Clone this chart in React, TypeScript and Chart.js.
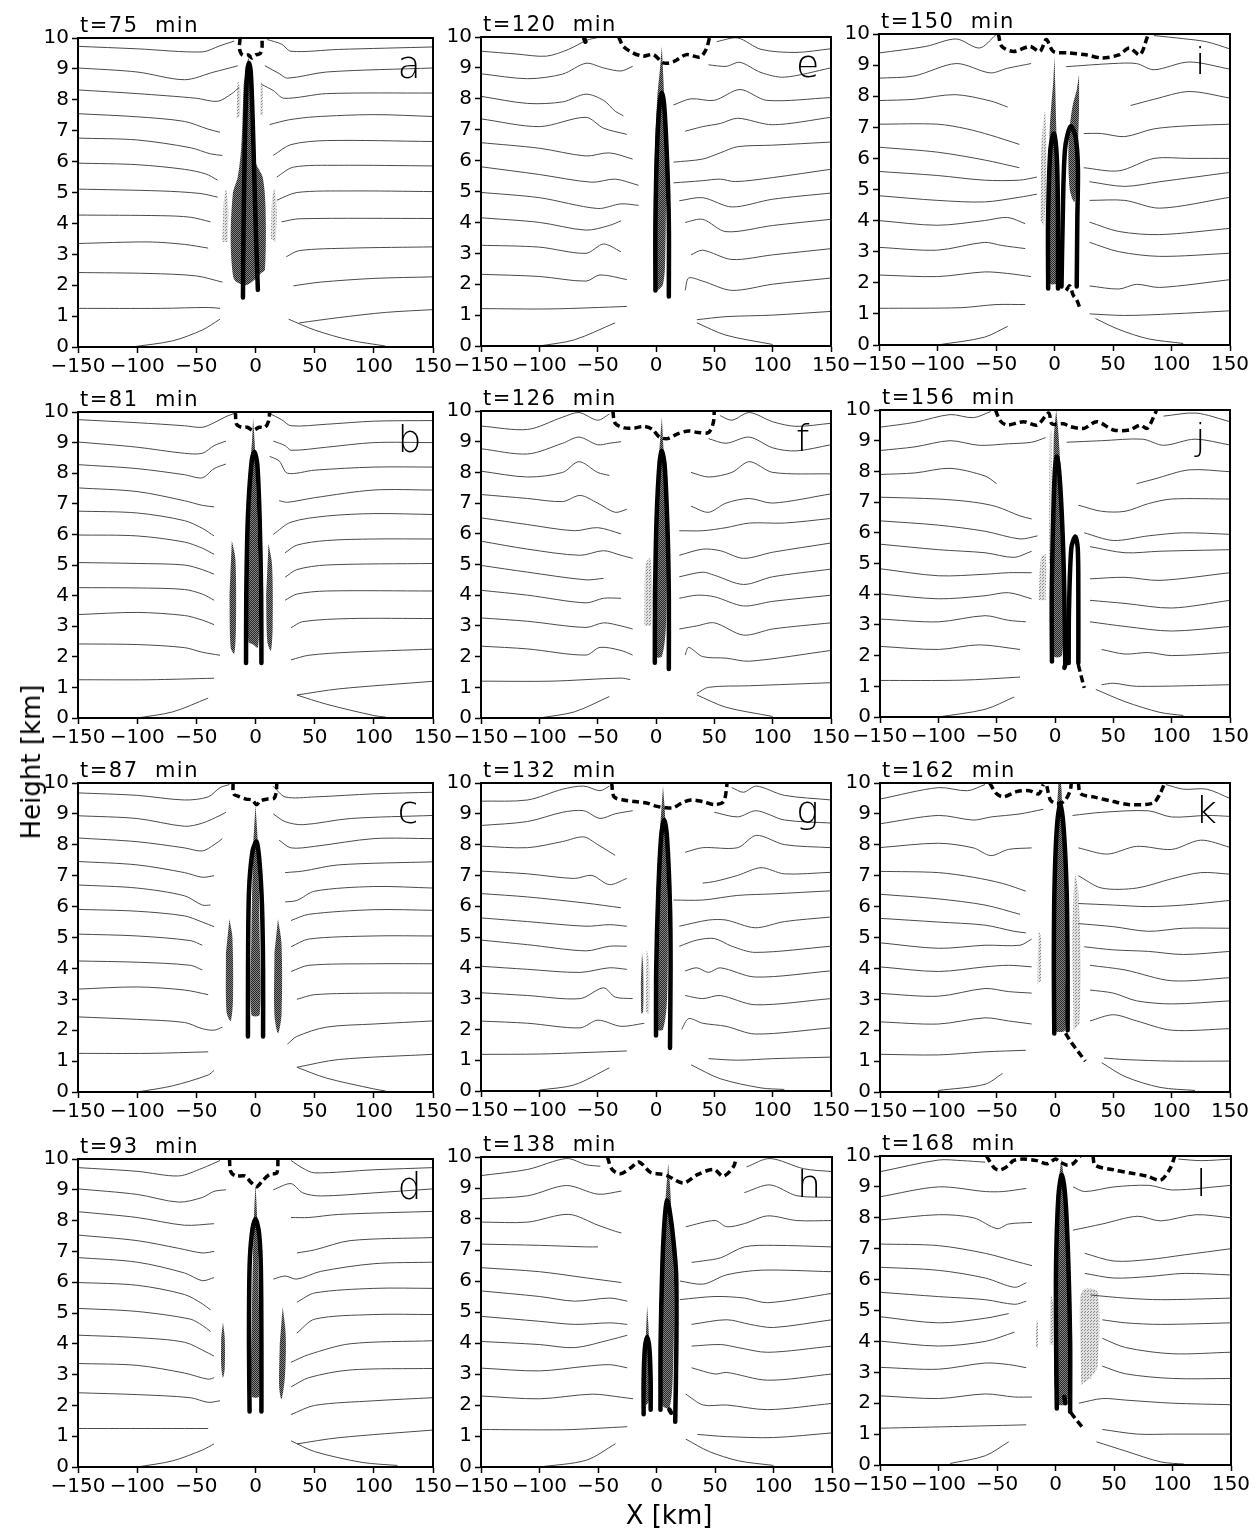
import { useEffect, useRef } from 'react';
import { Chart, registerables } from 'chart.js';
Chart.register(...registerables);

// ---------- axes / labels ----------
const xTicks = [-150, -100, -50, 0, 50, 100, 150];
const yTicks = [0, 1, 2, 3, 4, 5, 6, 7, 8, 9, 10];
const letters = ['a', 'b', 'c', 'd', 'e', 'f', 'g', 'h', 'i', 'j', 'k', 'l'];
const times = [75, 81, 87, 93, 120, 126, 132, 138, 150, 156, 162, 168];

// ---------- isentropes (flat x,y lists) ----------
const isoA = [
  [-150,9.73,-100,9.65,-45,9.55,-30,9.75,-18,9.9],[10,9.95,22,9.8,30,9.57,70,9.63,150,9.71],
  [-150,9.03,-100,8.9,-60,8.65,-35,8.9,-15,9.1],[8,9.1,20,8.85,27,8.7,60,8.9,150,9.03],
  [-150,8.32,-100,8.2,-50,8.05,-32,7.95,-20,8.2,-14,8.4],[5,8.5,15,8.3,24,8.05,60,8.2,150,8.22],
  [-150,7.55,-100,7.45,-60,7.3,-40,7.05,-30,6.95],[12,7.2,28,7.35,50,7.45,100,7.52,150,7.46],
  [-150,6.76,-100,6.7,-55,6.45,-38,6.25,-28,6.2],[15,6.2,30,6.55,60,6.68,150,6.65],
  [-150,5.95,-100,5.9,-60,5.75,-42,5.6,-32,5.4],[18,5.5,32,5.82,70,5.88,150,5.86],
  [-150,5.11,-80,5.05,-47,4.97,-32,4.85],[18,4.75,35,5.0,80,5.05,150,5.03],
  [-150,4.27,-80,4.25,-55,4.2,-38,4.05],[22,4.05,37,4.15,150,4.16],
  [-150,3.35,-90,3.4,-60,3.32,-40,3.2],[26,2.92,37,3.12,80,3.2,150,3.24],
  [-150,2.41,-90,2.38,-50,2.3,-28,2.1],[32,1.98,55,2.1,100,2.22,150,2.27],
  [-150,1.25,-80,1.25,-40,1.28,-30,1.25],[37,0.78,70,0.95,110,1.12,150,1.21],
  [-105,0,-70,0.2,-45,0.55,-30,0.9],[28,0.9,50,0.55,80,0.22,110,0.03],
];
const isoB = [
  [-150,9.75,-100,9.65,-60,9.55,-45,9.5,-35,9.65,-25,9.85,-18,9.95],[12,9.95,22,9.75,30,9.55,60,9.6,100,9.7,150,9.72],
  [-150,9.02,-100,8.85,-60,8.65,-45,8.65,-35,8.9,-25,9.05],[15,9.05,25,8.9,30,8.75,60,8.85,100,9.0,150,9.0],
  [-150,8.28,-100,8.15,-60,7.95,-45,7.85,-35,8.15,-25,8.3],[12,8.55,20,8.4,27,8.0,50,8.1,100,8.2,150,8.2],
  [-150,7.52,-100,7.4,-60,7.1,-45,6.95,-35,6.9],[20,7.1,27,7.05,50,7.2,100,7.45,150,7.45],
  [-150,6.76,-100,6.7,-60,6.45,-45,6.2,-35,5.95],[15,6.0,30,6.4,60,6.6,100,6.68,150,6.65],
  [-150,5.98,-100,5.95,-60,5.75,-45,5.55,-35,5.35],[25,5.4,35,5.65,60,5.8,100,5.85,150,5.85],
  [-150,5.08,-100,5.05,-60,5.0,-45,4.85,-35,4.7],[25,4.6,35,4.85,60,5.0,150,5.05],
  [-150,4.26,-100,4.25,-60,4.2,-45,4.05,-35,3.85],[25,3.85,35,4.05,60,4.15,150,4.15],
  [-150,3.38,-100,3.45,-60,3.35,-45,3.2,-35,3.05],[30,2.95,40,3.15,80,3.25,150,3.25],
  [-150,2.42,-100,2.4,-60,2.3,-45,2.15,-30,2.05],[30,1.9,45,2.05,80,2.15,150,2.25],
  [-150,1.25,-90,1.25,-35,1.3],[35,0.75,70,0.95,150,1.2],
  [-100,0,-70,0.2,-40,0.65],[35,0.75,60,0.45,100,0.08,110,0.03],
];
const isoC = [
  [-150,9.68,-100,9.6,-60,9.45,-40,9.55,-30,9.85,-22,9.95],[15,9.9,25,9.55,50,9.55,100,9.65,150,9.7],
  [-150,8.94,-100,8.85,-60,8.6,-45,8.7,-30,8.95,-25,9.05],[15,9.0,25,8.75,40,8.65,80,8.85,150,8.95],
  [-150,8.22,-100,8.1,-60,7.9,-45,7.8,-35,8.0,-28,8.2],[20,8.15,30,7.9,50,7.95,100,8.2,150,8.2],
  [-150,7.46,-100,7.35,-60,7.1,-45,6.95,-35,7.0],[25,7.1,40,7.15,70,7.35,150,7.45],
  [-150,6.7,-100,6.6,-60,6.35,-45,6.05,-38,6.05],[25,6.15,35,6.2,50,6.5,100,6.65,150,6.6],
  [-150,5.91,-100,5.85,-60,5.7,-45,5.5,-35,5.35],[30,5.55,45,5.75,100,5.9,150,5.88],
  [-150,5.11,-100,5.05,-55,4.9,-45,4.75],[30,4.7,45,4.95,100,5.05,150,5.05],
  [-150,4.24,-100,4.2,-55,4.1,-45,3.95],[30,3.9,45,4.1,100,4.15,150,4.15],
  [-150,3.33,-100,3.4,-60,3.3,-40,3.15],[35,3.0,50,3.15,100,3.2,150,3.2],
  [-150,2.43,-100,2.35,-60,2.25,-45,2.05,-35,2.0,-28,2.1],[27,1.55,35,1.8,60,2.1,100,2.2,150,2.3],
  [-150,1.25,-90,1.25,-40,1.3],[35,0.8,70,1.05,150,1.22],
  [-100,0,-70,0.2,-40,0.55,-35,0.7],[35,0.8,60,0.45,100,0.1,110,0.03],
];
const isoD = [
  [-150,9.72,-100,9.6,-65,9.45,-45,9.7,-30,9.95],[30,9.95,40,9.7,50,9.55,100,9.65,150,9.72],
  [-150,9.03,-100,8.85,-65,8.6,-45,8.75,-35,8.95,-25,9.0],[15,9.0,30,9.2,40,8.9,55,8.8,100,8.9,150,9.03],
  [-150,8.29,-100,8.1,-60,7.85,-35,7.9],[30,8.1,45,8.1,70,8.2,150,8.3],
  [-150,7.53,-100,7.35,-65,7.1,-45,6.95,-35,7.0],[35,6.95,50,7.05,80,7.35,150,7.45],
  [-150,6.8,-100,6.65,-60,6.3,-45,6.05,-35,6.15],[15,6.1,25,6.2,35,6.1,55,6.35,100,6.6,150,6.65],
  [-150,5.99,-100,5.9,-60,5.6,-45,5.3,-38,5.1],[35,5.35,50,5.65,100,5.8,150,5.8],
  [-150,5.15,-100,5.05,-55,4.8,-45,4.6,-38,4.4],[35,4.35,50,4.8,100,4.95,150,4.95],
  [-150,4.28,-100,4.2,-60,4.05,-40,3.7,-35,3.6],[30,3.4,45,3.65,80,4.0,150,4.1],
  [-150,3.36,-100,3.3,-60,3.05,-40,2.85,-35,2.9],[30,2.6,45,2.9,80,3.15,150,3.2],
  [-150,2.41,-100,2.35,-55,2.25,-40,2.1,-30,2.15],[30,1.7,50,2.0,100,2.15,150,2.25],
  [-150,1.25,-80,1.25,-40,1.25],[35,0.75,70,0.95,150,1.2],
  [-100,0,-70,0.2,-45,0.55,-35,0.75],[30,0.85,50,0.5,90,0.15,120,0.05],
];
const isoE = [
  [-150,9.54,-120,9.45,-94,9.38,-75,9.6,-59,9.9,-50,9.98],[52,9.85,70,9.97,90,9.6,120,9.5,150,9.62],
  [-150,8.81,-110,8.65,-80,8.8,-60,9.15,-45,9.0,-30,8.9,-20,9.05],[45,9.1,60,9.05,72,9.18,90,8.85,110,8.7,150,9.0],
  [-150,8.08,-110,7.85,-80,7.9,-60,8.15,-45,7.95,-35,7.6,-28,7.45],[15,7.8,30,8.0,50,7.95,72,8.3,95,7.95,150,8.04],
  [-150,7.35,-100,7.1,-60,7.4,-45,7.05,-25,6.85],[25,6.95,40,7.1,55,7.2,70,7.37,100,7.16,150,7.4],
  [-150,6.58,-100,6.4,-60,6.15,-40,6.25,-20,6.05],[15,5.95,40,6.05,55,6.25,70,6.45,100,6.5,150,6.6],
  [-150,5.8,-100,5.55,-55,5.3,-35,5.4,-15,5.2],[15,5.28,40,5.35,55,5.4,68,5.32,100,5.45,150,5.72],
  [-150,4.97,-100,4.8,-50,4.45,-30,4.6,-15,4.55],[20,4.7,40,4.8,65,4.5,100,4.75,150,4.95],
  [-150,4.15,-100,4.0,-60,3.75,-40,3.9,-30,4.05],[25,4.0,40,4.1,60,3.7,100,3.9,150,4.1],
  [-150,3.26,-100,3.2,-60,3.0,-45,3.3,-30,3.05],[30,2.95,40,3.1,65,2.8,100,2.95,150,3.15],
  [-150,2.32,-100,2.25,-60,2.1,-48,2.3,-25,2.15],[25,1.8,28,2.2,40,2.1,65,1.8,100,2.0,150,2.2],
  [-150,1.21,-90,1.2,-25,1.28],[35,0.85,60,0.95,100,1.0,150,1.12],
  [-100,0,-70,0.2,-35,0.75],[35,0.75,60,0.35,100,0.05],
];
const isoF = [
  [-150,9.51,-110,9.4,-80,9.8,-66,9.95,-50,9.7,-40,9.9],[55,9.85,65,9.7,80,9.95,100,9.65,120,9.5,150,9.6],
  [-150,8.77,-110,8.6,-80,8.95,-66,9.15,-50,8.9,-40,8.95,-30,9.0],[45,9.1,60,8.95,80,9.15,100,8.8,120,8.7,150,8.9],
  [-150,8.04,-110,7.85,-80,8.0,-66,8.35,-50,8.0,-40,7.9],[30,8.0,45,7.85,65,8.0,80,8.35,100,8.0,150,7.95],
  [-150,7.28,-110,7.15,-80,7.05,-65,7.25,-50,7.0,-35,6.7,-25,6.8],[30,6.9,45,6.7,60,7.0,80,7.15,100,7.0,150,7.3],
  [-150,6.52,-110,6.3,-70,6.1,-50,6.2,-30,6.0],[20,6.1,40,6.1,60,6.2,80,6.35,110,6.35,150,6.5],
  [-150,5.76,-110,5.5,-65,5.3,-45,5.45,-30,5.3,-20,5.2],[20,5.3,40,5.5,55,5.45,75,5.2,100,5.4,150,5.7],
  [-150,4.97,-110,4.75,-60,4.5,-45,4.55],[20,4.6,40,4.75,50,4.65,75,4.35,100,4.6,150,4.85],
  [-150,4.16,-110,4.0,-60,3.75,-45,3.9,-30,3.9],[20,3.9,35,4.0,50,3.95,75,3.65,100,3.8,150,4.0],
  [-150,3.26,-110,3.15,-60,2.95,-45,3.1,-30,3.0,-20,2.9],[20,2.9,35,3.0,50,3.1,75,2.7,100,2.9,150,3.1],
  [-150,2.34,-110,2.25,-60,2.05,-48,2.3,-30,2.2,-20,2.05],[25,2.05,28,2.3,40,2.0,60,1.95,80,1.85,150,2.2],
  [-150,1.2,-90,1.2,-30,1.3,-22,1.25],[35,0.8,45,1.0,80,1.05,150,1.15],
  [-100,0,-70,0.2,-40,0.7],[35,0.75,60,0.35,100,0.05],
];
const isoG = [
  [-150,9.41,-110,9.45,-80,9.8,-62,9.9,-48,9.75,-40,9.9],[65,9.85,75,9.7,86,9.9,110,9.6,150,9.45],
  [-150,8.62,-110,8.75,-80,9.05,-62,9.1,-48,8.85,-35,9.0,-20,9.1],[50,9.05,70,8.9,86,9.1,110,8.8,150,8.7],
  [-150,7.95,-110,7.9,-80,8.1,-62,8.25,-50,8.0,-35,7.65],[25,7.75,40,7.9,70,7.9,86,8.3,110,8.0,150,7.9],
  [-150,7.14,-110,7.05,-70,6.9,-55,7.0,-40,6.7,-25,6.9],[40,6.75,50,6.8,70,7.0,90,7.25,110,7.05,150,7.1],
  [-150,6.41,-110,6.3,-60,6.1,-30,5.95],[15,6.2,40,6.2,70,6.35,100,6.4,150,6.5],
  [-150,5.62,-110,5.5,-60,5.35,-40,5.4,-25,5.35],[20,5.35,45,5.55,60,5.55,85,5.3,110,5.5,150,5.65],
  [-150,4.9,-110,4.75,-60,4.55,-40,4.7,-25,4.7],[20,4.7,35,4.9,50,4.95,65,4.7,85,4.5,150,4.7],
  [-150,4.05,-110,3.95,-65,3.85,-40,4.0,-25,3.95],[25,3.9,35,4.0,45,3.85,55,4.0,85,3.7,150,3.9],
  [-150,3.19,-110,3.1,-65,3.0,-45,3.35,-35,3.05,-20,3.0],[25,3.1,40,3.0,55,3.1,85,2.8,150,3.0],
  [-150,2.27,-110,2.2,-65,2.05,-50,2.3,-30,2.1,-10,2.2],[22,2.0,28,2.35,40,2.2,60,2.1,85,1.85,150,2.05],
  [-150,1.19,-100,1.2,-60,1.25,-25,1.3],[45,1.05,70,1.0,100,1.05,150,1.1],
  [-100,0.03,-70,0.2,-40,0.75],[30,0.85,55,0.4,90,0.1,110,0.05],
];
const isoH = [
  [-150,9.4,-110,9.6,-77,9.95,-60,9.75,-48,9.7],[77,9.68,97,9.95,126,9.62,150,9.53],
  [-150,8.65,-110,8.75,-77,9.08,-50,8.8,-30,8.9],[75,8.85,97,9.1,120,8.75,150,8.7],
  [-150,7.9,-110,7.9,-75,8.15,-50,7.8,-35,7.6,-30,7.55],[25,7.75,50,7.95,60,7.75,75,7.85,95,8.1,120,7.95,150,7.95],
  [-150,7.19,-100,7.15,-60,7.1,-50,7.1],[30,6.6,40,6.65,55,6.75,75,7.1,100,7.15,150,7.1],
  [-150,6.43,-100,6.3,-60,6.1,-30,5.95],[20,6.0,40,5.9,60,6.2,90,6.35,150,6.3],
  [-150,5.68,-100,5.5,-70,5.35,-40,5.45,-25,5.35],[20,5.4,50,5.5,75,5.45,95,5.3,150,5.6],
  [-150,4.86,-100,4.7,-70,4.6,-40,4.65,-25,4.6],[30,4.6,60,4.75,80,4.6,100,4.5,150,4.75],
  [-150,4.05,-100,3.95,-70,3.85,-40,4.1,-25,4.25],[30,3.9,55,3.95,70,3.85,95,3.7,150,3.9],
  [-150,3.19,-100,3.1,-60,3.25,-40,3.3,-25,3.2],[30,3.2,50,3.0,60,3.05,95,2.8,150,3.0],
  [-150,2.29,-100,2.2,-55,2.35,-30,2.25,-20,2.2],[25,2.35,40,2.0,60,2.0,95,1.85,150,2.05],
  [-150,1.21,-80,1.2,-50,1.25,-25,1.3],[35,1.05,60,0.98,100,0.95,150,1.1],
  [-100,0,-60,0.22,-35,0.75],[25,0.9,45,0.5,70,0.2,100,0.05],
];
const isoI = [
  [-150,9.39,-110,9.6,-84,9.84,-64,9.55,-50,9.98],[85,9.95,110,9.85,130,9.75,150,9.52],
  [-150,8.58,-120,8.65,-84,9.05,-55,8.75,-40,8.9,-20,9.05],[10,8.95,50,9.05,70,9.05,85,8.85,115,9.1,150,8.87],
  [-150,7.86,-120,7.9,-85,8.05,-55,7.85,-40,7.65],[65,7.7,85,7.9,115,8.15,150,7.94],
  [-150,7.1,-100,7.1,-75,6.95,-55,6.75,-30,6.45],[25,6.8,40,6.8,60,6.7,85,6.95,115,7.05,150,7.1],
  [-150,6.36,-100,6.2,-60,5.95,-30,5.7],[25,5.7,55,5.6,85,6.0,115,6.0,150,6.0],
  [-150,5.58,-100,5.45,-60,5.3,-30,5.3,-15,5.4],[30,5.25,60,5.1,90,5.25,150,5.55],
  [-150,4.8,-100,4.65,-60,4.6,-30,4.75,-15,4.85],[30,4.65,60,4.65,90,4.4,150,4.75],
  [-150,4.0,-100,3.85,-60,4.0,-40,4.1,-25,3.9],[30,3.95,55,3.65,90,3.55,150,3.75],
  [-150,3.14,-100,3.05,-60,3.3,-45,3.2,-25,3.1],[30,3.3,55,3.0,90,2.85,150,2.95],
  [-150,2.25,-100,2.2,-60,2.35,-40,2.3,-20,2.2],[30,1.9,55,1.8,70,1.95,90,1.85,150,2.1],
  [-150,1.18,-80,1.2,-50,1.3,-25,1.3],[30,1.0,60,0.95,100,1.0,150,1.1],
  [-100,0,-60,0.25,-40,0.6],[35,0.85,55,0.5,80,0.2,110,0.05],
];
const isoJ = [
  [-150,9.44,-120,9.6,-90,9.85,-70,9.75,-55,9.95],[93,9.8,121,9.9,150,9.62],
  [-150,8.68,-120,8.8,-90,9.0,-65,8.85,-40,8.9,-20,8.95,-8,9.1],[10,8.95,40,9.0,75,9.05,93,8.85,120,9.05,150,8.86],
  [-150,7.9,-120,7.95,-90,8.1,-60,7.85,-50,7.6],[70,7.6,85,7.75,115,8.05,150,7.99],
  [-150,7.16,-100,7.1,-70,7.0,-50,6.85,-30,6.55,-20,6.45],[20,6.9,40,6.7,60,6.7,80,6.95,100,7.1,150,7.1],
  [-150,6.39,-100,6.25,-60,6.05,-30,5.8,-15,5.9],[25,6.0,50,5.75,80,5.9,110,6.0,150,5.95],
  [-150,5.63,-100,5.45,-60,5.35,-35,5.2,-20,5.4],[30,5.55,60,5.35,90,5.4,150,5.45],
  [-150,4.83,-100,4.6,-60,4.65,-40,4.7,-20,4.7],[30,4.5,60,4.55,90,4.45,150,4.7],
  [-150,4.01,-100,3.85,-60,3.95,-40,4.05,-20,3.85],[30,3.8,60,3.7,100,3.55,150,3.8],
  [-150,3.19,-100,3.1,-60,3.3,-40,3.15,-25,3.1],[30,3.1,60,2.95,100,2.8,150,2.95],
  [-150,2.3,-100,2.2,-65,2.35,-30,2.2],[40,2.2,60,2.05,80,2.1,100,2.0,150,2.1],
  [-150,1.19,-80,1.2,-30,1.3],[40,1.05,50,1.1,70,1.0,150,1.05],
  [-100,0,-60,0.25,-35,0.65],[35,0.9,60,0.5,90,0.15,110,0.05],
];
const isoK = [
  [-150,9.48,-100,9.85,-75,9.75,-60,9.95],[95,9.95,110,9.8,130,9.8,150,9.5],
  [-150,8.68,-100,8.95,-70,8.8,-55,8.9,-30,9.0,-10,9.15],[15,8.95,40,9.05,80,9.1,100,8.9,130,8.95,150,8.92],
  [-150,7.91,-100,8.05,-70,7.9,-55,7.65,-40,7.85,-20,7.9],[20,7.9,45,7.7,70,7.95,100,7.85,125,8.15,150,7.92],
  [-150,7.14,-100,7.1,-70,6.95,-45,6.75,-25,6.5],[20,7.0,40,6.6,70,6.6,100,6.9,125,7.1,150,7.05],
  [-150,6.4,-100,6.25,-60,6.05,-30,5.75],[20,6.1,50,6.05,80,6.0,110,6.05,150,6.2],
  [-150,5.62,-100,5.5,-60,5.4,-35,5.2,-25,5.15],[20,5.45,50,5.35,80,5.2,110,5.3,150,5.3],
  [-150,4.83,-100,4.65,-60,4.75,-30,4.75,-20,4.95],[25,4.7,50,4.6,80,4.55,110,4.45,150,4.55],
  [-150,4.05,-100,3.9,-60,4.05,-40,4.1,-20,4.05],[30,4.1,60,3.95,100,3.6,150,3.7],
  [-150,3.19,-100,3.1,-60,3.35,-40,3.25,-20,3.2],[30,3.3,50,3.2,70,2.95,100,2.85,150,2.95],
  [-150,2.27,-100,2.2,-60,2.4,-40,2.3,-20,2.2],[30,2.3,50,2.5,70,2.3,100,2.0,150,2.05],
  [-150,1.22,-100,1.2,-60,1.3,-25,1.35],[42,1.1,60,1.05,100,1.0,150,1.0],
  [-100,0.05,-60,0.25,-45,0.6],[40,0.95,60,0.5,90,0.15,120,0.05],
];
const isoL = [
  [-150,9.49,-100,9.87,-80,9.85,-60,9.8],[105,9.9,125,9.85,150,9.9],
  [-150,8.68,-100,9.0,-60,8.85,-45,8.85,-25,8.95],[15,9.0,25,8.85,50,9.0,80,9.05,100,8.9,150,9.05],
  [-150,7.93,-100,8.1,-70,8.0,-50,7.65,-40,7.8,-20,7.85],[15,7.6,40,7.8,70,8.05,90,7.9,120,8.1,150,8.0],
  [-150,7.15,-100,7.1,-60,6.85,-35,6.6,-20,6.45],[25,6.85,50,6.6,80,6.65,110,6.8,150,7.0],
  [-150,6.4,-100,6.3,-60,6.05,-35,5.75,-25,5.9],[25,6.2,50,6.05,80,6.1,110,6.2,150,6.15],
  [-150,5.59,-100,5.45,-60,5.35,-35,5.2,-25,5.3],[30,5.5,60,5.4,90,5.35,150,5.4],
  [-150,4.8,-100,4.6,-60,4.75,-40,4.9],[40,4.7,60,4.6,90,4.55,150,4.6],
  [-150,4.01,-100,3.85,-60,4.0,-35,4.3],[40,4.1,60,3.8,100,3.6,150,3.65],
  [-150,3.16,-100,3.1,-60,3.3,-40,3.25,-25,3.15],[40,3.2,60,2.95,100,2.8,150,2.8],
  [-150,2.24,-100,2.15,-60,2.3,-35,2.2,-20,2.2],[20,2.0,40,2.15,60,2.1,100,2.0,150,1.95],
  [-150,1.19,-80,1.25,-25,1.3],[40,1.15,70,1.0,100,1.0,150,1.0],
  [-90,0.05,-60,0.3,-40,0.75],[35,0.75,60,0.45,90,0.1,110,0.03],
];

// ---------- cloud shading (polygons) ----------
const darkA = [[-6,9.4,-3,8.5,0,6.0,6,5.5,8.5,4.5,8,2.5,5,2.4,0,2.2,-8,2.0,-16,2.1,-19,2.3,-21,3.5,-19,5.0,-15,5.5,-12,6.5,-10,8.5]];
const lightA = [[-28,3.4,-27,4.6,-25,5.1,-23,4.5,-23.5,3.4],[13,3.5,14,4.8,16,5.1,18,4.4,17,3.4],[-16,7.4,-15,8.6,-13,8.4,-13,7.5],[4,7.5,4.5,8.6,6,8.4,6,7.5]];
const darkB = [[-2,9.8,0,8.5,2,6,3,3.5,2,2.3,-2,2.4,-6,2.5,-7,5,-5,8,-3,9],[-20,5.8,-17,5.2,-16.5,3,-18,2.1,-21,2.3,-22,4],[11,5.7,14,5,14.5,3,13,2.2,10,2.5,9,4]];
const lightB = [];
const darkC = [[0,9.3,2,8,3.5,5,3.5,2.5,-3.5,2.5,-3.5,5,-2,8],[-22,5.6,-19.5,5.0,-19,3,-21,2.3,-24.5,2.6,-25,4.5],[19,5.6,22,4.8,22,2.5,19,1.9,16,2.5,16,4.5]];
const lightC = [];
const darkD = [[0,9.2,1.5,8,3,5,3,2.3,-3,2.3,-3,5,-1.5,8],[-27.5,4.7,-26,4.2,-26,3.2,-27.5,2.9,-29,3.3,-29,4.2],[23,5.2,25.5,4.3,25,3,22,2.2,20,2.6,20.5,4]];
const lightD = [];
const darkE = [[5,9.7,6.5,8.5,8.5,6,8,3,6,2.0,0,1.8,-1.5,3,-1.5,5.5,1,8,3.5,9]];
const lightE = [];
const darkF = [[5,9.8,6.5,8.7,9,6,8.5,3,5,2.0,0,2,-1,4,0,6.5,2.5,8.5,4,9.3]];
const lightF = [[-10,3,-9,5,-5,5.2,-3,4,-4,3]];
const darkG = [[6,9.9,8,8.8,10,6,9.5,3,6,2.0,1,2,0,4,1,7,4,8.8],[-12,4.5,-11,4,-11,2.6,-12.5,2.5,-13,3.5]];
const lightG = [[-8,4.6,-6,4.2,-6,2.5,-9,2.6]];
const darkH = [[10,9.8,12,8.8,15,6,14,3,11,1.9,5,2.0,4,4,5,7,8,8.8],[-8,5.2,-6.5,4.2,-6,2.2,-9,2.0,-10,3.5]];
const lightH = [];
const darkI = [[0,9.3,1.5,7,3,4.5,2,2,-5,2,-6,4,-4,7,-1,8.5],[21,8.7,21,7.6,19,5.5,17,4.6,13,5.0,12,6.5,15,7.6,19,8.2]];
const lightI = [[-12,4,-11,6.5,-8,7.5,-7,5,-9,3.8]];
const darkJ = [[1,10,3,9.2,6,7,7,4,6,2.0,-2,2.0,-3,4,-2,7,-1,9.2]];
const lightJ = [[-14,3.8,-12,5.2,-8,5.3,-8,3.8],[-5,5,-4.5,9.2,-3,9.3,-3,5]];
const darkK = [[3,10,5,10,6,9.4,8.5,7,9,4,8.5,2.0,0,2.0,-1,4,0,7,2,9.4]];
const lightK = [[16,2.0,15,5,17,7,20,6.5,22,4,21,2.2],[-15,3.5,-14,5.2,-12,5,-12,3.6]];
const darkL = [[5,9.9,7,9.3,10,7,11,4,10,2.0,1,2.0,-1,4,0,7,3,9.3]];
const lightL = [[-5,3.9,-4,5.5,-2,5.2,-2,3.9],[-17,3.8,-16,4.7,-15,4.6,-15,3.8],[22,2.6,21,5.4,25,5.7,36,5.6,36,3.2,30,2.8]];

// ---------- thick solid contours ----------
const upA = [[-10.6,1.6,-10.2,3.5,-9.5,5.5,-8.5,7.5,-7,8.9,-5.5,9.2,-4,8.9,-2.5,7.5,-1,5.5,0.5,3.5,2,1.85]];
const upB = [[-8,1.8,-7.8,4,-6.5,6.5,-3.5,8.3,-1,8.7,1.5,8.3,3.5,6.5,4.8,4,5,1.8]];
const upC = [[-6.4,1.8,-6.3,4,-5.5,6.5,-2.5,7.8,0.9,8.1,3.5,7.4,5.5,6,6.4,4,6.4,1.8]];
const upD = [[-5,1.8,-5.5,4,-5,6.5,-3,7.6,0,8.05,3,7.6,4.5,6.5,5,4,5,1.8]];
const upE = [[-0.5,1.8,-0.5,4,1,6.5,3,7.8,5,8.2,7,7.8,9.5,6,11,4,11,1.6],[-61.5,9.95,-60.5,9.85]];
const upF = [[-1,1.8,-0.8,4,0.5,6.5,3,8.3,5,8.7,7.5,8.2,10,6,11,4,11,1.6]];
const upG = [[0,1.8,0.2,4,2,6.5,4.5,8.3,7,8.8,9.5,8.2,12,6,12.5,4,12,1.4]];
const upH = [[-11,1.7,-11,2.8,-10,3.8,-8,4.2,-6,3.8,-5,2.8,-5,1.85],[3.4,1.85,3.5,4,5,6.5,7,8,9,8.6,11.5,8.2,14.5,7.3,16.8,6.2,17,4,16,1.46],[11,1.85,12.5,1.75]];
const upI = [[-5.4,1.82,-5.5,4,-3.5,6.3,-0.5,6.8,2,6,3,4,3,1.82],[6,1.88,7,4,9,6.3,13.7,7.03,18,6.7,20,5.7,19.5,4,19,1.88]];
const upJ = [[-2.6,1.81,-2.8,4,-1.5,6.5,0,8.1,1.7,8.48,4,7.8,6.5,6,8,4,8.8,1.7],[11.7,1.76,12,3.5,14,5.5,17.4,5.88,19.5,5.5,20,4,20,1.76],[8,1.6,9.5,1.8]];
const upK = [[-0.6,1.89,-1,4,-0.5,6.5,1.5,8.5,4.6,9.35,7.5,8.5,10,6.5,10.8,4,10.8,2.0]];
const upL = [[1.1,1.83,0.5,4,0.5,6.5,2.5,8.7,5.4,9.39,8.5,8.6,11,6.5,12.5,4,12.5,1.72],[7.5,2.2,8.5,2.0]];

// ---------- thick dashed contours ----------
const dashA = [[-13,10,-13.5,9.65,-11,9.45,-6,9.45,-3,9.35,0,9.45,4,9.5,5.5,9.7,5.5,10]];
const dashB = [[-17,10,-16,9.6,-12,9.5,-7,9.5,-2,9.4,3,9.5,8,9.5,11,9.7,12,10]];
const dashC = [[-19,10,-18.5,9.65,-14.5,9.57,-8,9.48,-3,9.45,1,9.3,4,9.42,10,9.48,15.5,9.5,17.5,9.7,18,10]];
const dashD = [[-22,10,-21,9.6,-17,9.45,-9,9.45,-4,9.25,1,9.1,6,9.3,12,9.5,18,9.55,19,10]];
const dashE = [[-32,10,-28,9.7,-19.4,9.48,-11,9.38,-2.3,9.43,6.3,9.16,15,9.2,26,9.43,37.7,9.35,43,9.6,46,10]];
const dashF = [[-37,10,-35,9.6,-27,9.45,-18,9.45,-10,9.5,-3,9.4,3,9.15,10,9.1,18,9.25,28,9.35,36,9.3,45,9.3,49,9.6,50,10]];
const dashG = [[-38,10,-36,9.55,-28,9.45,-18,9.4,-8,9.35,0,9.25,8,9.2,15,9.2,22,9.35,30,9.45,40,9.4,50,9.3,58,9.4,61,10]];
const dashH = [[-42,10,-38,9.6,-31,9.46,-22,9.65,-15,9.84,-5,9.5,3.4,9.45,9,9.4,23,9.16,35,9.43,49,9.6,57,9.38,66,9.7,68,10]];
const dashI = [[-48,10,-45,9.6,-35,9.44,-21,9.6,-12.5,9.44,-7,9.82,-1,9.44,13,9.39,27,9.33,41,9.23,55,9.33,64,9.55,73,9.33,79,9.87,80,10],[10,1.75,13,1.9,16,1.6,19,1.45,22,1.15]];
const dashJ = [[-51,10,-47,9.65,-41,9.51,-27,9.62,-15.4,9.51,-5.4,9.9,-2.6,9.55,7.4,9.55,13,9.46,24.5,9.4,35.9,9.62,50,9.35,64,9.35,73,9.51,79,9.4,86,9.9,87,10],[20,1.7,22,1.4,25,0.95]];
const dashK = [[-56,10,-50,9.65,-44,9.55,-33,9.72,-22,9.75,-14,9.65,-10,9.95],[-7,9.9,-4,9.45,0,9.35,5,9.35,9,9.45,13,9.75,14,10],[20,10,22,9.65,33,9.55,50,9.4,64,9.3,84,9.35,90,9.65,94,10],[9,1.9,14,1.6,20,1.3,26,1.0]];
const dashL = [[-59,10,-52,9.6,-47,9.55,-40,9.7,-36,9.85,-28,9.9,-16,9.85,-7,9.75,0,9.9,4,9.8,10,9.7,15,9.75,20,9.95,21,10],[32,10,34,9.7,50,9.55,64,9.45,78,9.35,90,9.22,98,9.6,102,10],[13,1.7,17,1.5,22.5,1.24]];

// ---------- layout (plot-area boxes in page pixels: left, top, right, bottom) ----------
const boxes = [
  [78, 38, 433, 347], [78, 412, 433, 718], [78, 783, 433, 1092], [78, 1159, 433, 1467],
  [481, 37, 831, 346], [481, 411, 831, 718], [481, 783, 831, 1091], [481, 1157, 832, 1467],
  [879, 34, 1230, 345], [880, 410, 1230, 717], [880, 783, 1230, 1092], [880, 1156, 1231, 1465],
];
const isos = [isoA, isoB, isoC, isoD, isoE, isoF, isoG, isoH, isoI, isoJ, isoK, isoL];
const darks = [darkA, darkB, darkC, darkD, darkE, darkF, darkG, darkH, darkI, darkJ, darkK, darkL];
const lights = [lightA, lightB, lightC, lightD, lightE, lightF, lightG, lightH, lightI, lightJ, lightK, lightL];
const ups = [upA, upB, upC, upD, upE, upF, upG, upH, upI, upJ, upK, upL];
const dashes = [dashA, dashB, dashC, dashD, dashE, dashF, dashG, dashH, dashI, dashJ, dashK, dashL];

const PADL = 65, PADT = 40, PADR = 30, PADB = 40;

function pts(a: number[]) {
  const r: { x: number; y: number }[] = [];
  for (let i = 0; i < a.length; i += 2) r.push({ x: a[i], y: a[i + 1] });
  return r;
}
const fmt = (v: number) => (v < 0 ? '\u2212' + Math.abs(v) : String(v));

function makePattern(bg: string, fg: string, size: number, dots: number[][]) {
  const c = document.createElement('canvas');
  c.width = size; c.height = size;
  const g = c.getContext('2d') as CanvasRenderingContext2D;
  g.fillStyle = bg; g.fillRect(0, 0, size, size);
  g.fillStyle = fg;
  dots.forEach(([x, y]) => g.fillRect(x, y, 1, 1));
  return g.createPattern(c, 'repeat');
}

const decor = {
  id: 'decor',
  afterDraw(chart: any, _args: any, opts: any) {
    const { ctx, chartArea: a, scales } = chart;
    ctx.save();
    ctx.strokeStyle = '#000';
    ctx.lineWidth = 2;
    ctx.strokeRect(a.left, a.top, a.right - a.left, a.bottom - a.top);
    ctx.fillStyle = '#000';
    ctx.textAlign = 'left';
    ctx.textBaseline = 'alphabetic';
    ctx.font = '21px "DejaVu Sans"';
    try { (ctx as any).letterSpacing = '1.5px'; } catch (e) {}
    ctx.fillText(opts.title, a.left + 2, a.top - 6);
    try { (ctx as any).letterSpacing = '0px'; } catch (e) {}
    ctx.font = '200 38px "DejaVu Sans"';
    ctx.fillText(opts.letter, scales.x.getPixelForValue(120), scales.y.getPixelForValue(8.7));
    ctx.restore();
  },
};

export default function App() {
  const refs = useRef<(HTMLCanvasElement | null)[]>([]);
  useEffect(() => {
    Chart.defaults.font.family = '"DejaVu Sans"';
    const darkPat = makePattern('#858585', '#262626', 4, [[0, 0], [1, 1], [2, 2], [3, 3], [2, 0], [0, 2], [3, 1], [1, 3]]);
    const lightPat = makePattern('#e0e0e0', '#8a8a8a', 3, [[0, 0], [2, 1]]);
    const charts: Chart[] = [];
    for (let p = 0; p < 12; p++) {
      const cv = refs.current[p];
      if (!cv) continue;
      const datasets: any[] = [];
      ups[p].forEach((l) => datasets.push({ data: pts(l), borderColor: '#000', borderWidth: 4.5, tension: 0.3, pointRadius: 0, fill: false, order: 1, borderCapStyle: 'round', borderJoinStyle: 'round' }));
      dashes[p].forEach((l) => datasets.push({ data: pts(l), borderColor: '#000', borderWidth: 3.5, borderDash: [7, 4], tension: 0.3, pointRadius: 0, fill: false, order: 2 }));
      isos[p].forEach((l) => datasets.push({ data: pts(l), borderColor: '#4a4a4a', borderWidth: 1, tension: 0.3, pointRadius: 0, fill: false, order: 3 }));
      lights[p].forEach((l) => datasets.push({ data: pts(l), borderColor: 'rgba(0,0,0,0)', borderWidth: 0, backgroundColor: lightPat, tension: 0.3, pointRadius: 0, fill: 'shape', order: 4 }));
      darks[p].forEach((l) => datasets.push({ data: pts(l), borderColor: 'rgba(0,0,0,0)', borderWidth: 0, backgroundColor: darkPat, tension: 0.3, pointRadius: 0, fill: 'shape', order: 5 }));
      const tickFont = { size: 20, family: '"DejaVu Sans"' };
      const ch = new Chart(cv, {
        type: 'line',
        data: { datasets },
        plugins: [decor as any],
        options: {
          responsive: false,
          animation: false,
          devicePixelRatio: 1,
          events: [],
          layout: { padding: { left: 0, top: PADT, right: PADR, bottom: 0 } },
          scales: {
            x: {
              type: 'linear', min: -150, max: 150,
              afterBuildTicks: (s: any) => { s.ticks = xTicks.map((v) => ({ value: v })); },
              afterFit: (s: any) => { s.height = PADB; },
              ticks: { autoSkip: false, maxRotation: 0, minRotation: 0, color: '#000', font: tickFont, padding: 2, callback: (v: any) => fmt(Number(v)) },
              grid: { display: true, drawOnChartArea: false, drawTicks: true, tickLength: 6, tickColor: '#000', tickWidth: 1.5 },
              border: { display: true, color: '#000', width: 2 },
            },
            y: {
              type: 'linear', min: 0, max: 10,
              afterBuildTicks: (s: any) => { s.ticks = yTicks.map((v) => ({ value: v })); },
              afterFit: (s: any) => { s.width = PADL; },
              ticks: { autoSkip: false, color: '#000', font: tickFont, padding: 3, callback: (v: any) => fmt(Number(v)) },
              grid: { display: true, drawOnChartArea: false, drawTicks: true, tickLength: 6, tickColor: '#000', tickWidth: 1.5 },
              border: { display: true, color: '#000', width: 2 },
            },
          },
          plugins: {
            legend: { display: false },
            tooltip: { enabled: false },
            decor: { title: 't=' + times[p] + '  min', letter: letters[p] },
          } as any,
        } as any,
      });
      charts.push(ch);
    }
    return () => charts.forEach((c) => c.destroy());
  }, []);

  return (
    <div style={{ position: 'absolute', left: 0, top: 0, width: 1260, height: 1532, background: '#fff', overflow: 'hidden' }}>
      {boxes.map((b, i) => (
        <canvas
          key={i}
          ref={(el) => { refs.current[i] = el; }}
          width={b[2] - b[0] + PADL + PADR}
          height={b[3] - b[1] + PADT + PADB}
          style={{ position: 'absolute', left: b[0] - PADL, top: b[1] - PADT, width: b[2] - b[0] + PADL + PADR, height: b[3] - b[1] + PADT + PADB }}
        />
      ))}
      <div style={{ position: 'absolute', left: 31, top: 762, transform: 'translate(-50%, -50%) rotate(-90deg)', font: '26px "DejaVu Sans"', whiteSpace: 'nowrap', color: '#000' }}>Height [km]</div>
      <div style={{ position: 'absolute', left: 669, top: 1515, transform: 'translate(-50%, -50%)', font: '26px "DejaVu Sans"', whiteSpace: 'nowrap', color: '#000' }}>X [km]</div>
    </div>
  );
}
